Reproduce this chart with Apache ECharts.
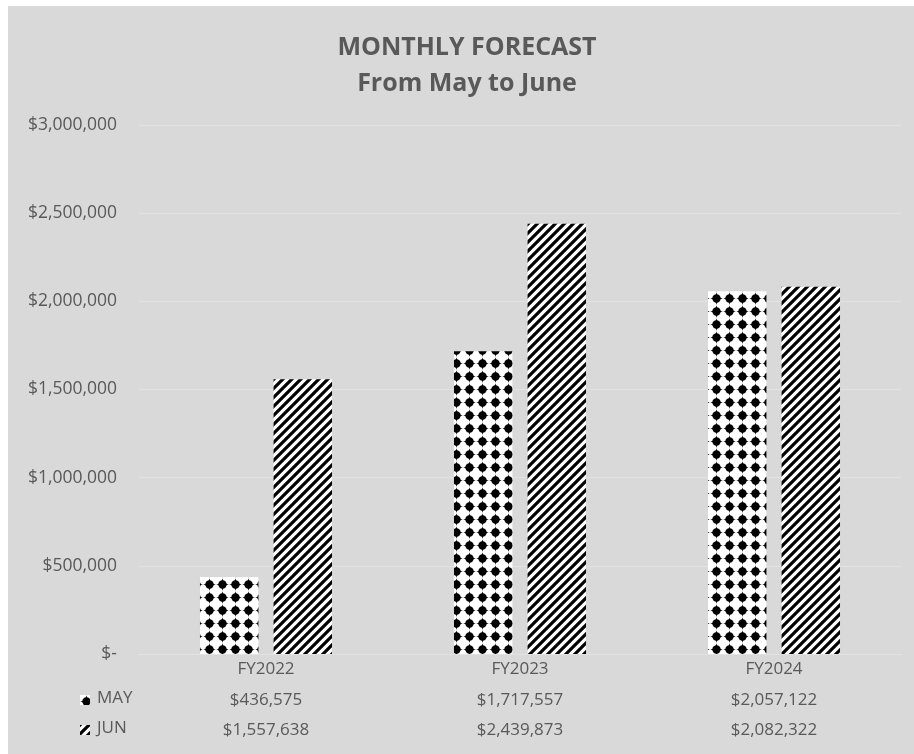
<!DOCTYPE html>
<html>
<head>
<meta charset="utf-8">
<script src="https://cdn.jsdelivr.net/npm/echarts@6/dist/echarts.min.js"></script>
<style>
html,body{margin:0;padding:0;background:#ffffff;}
#chart{position:absolute;left:8px;top:6px;width:906px;height:748px;}
</style>
</head>
<body>
<div id="chart"></div>
<script>
const categories = ['FY2022', 'FY2023', 'FY2024'];
const seriesNames = ['MAY', 'JUN'];
const mayValues = [436575, 1717557, 2057122];
const junValues = [1557638, 2439873, 2082322];
const yTicks = [0, 500000, 1000000, 1500000, 2000000, 2500000, 3000000];

function money(v) {
  if (v === 0) return '$-';
  return '$' + v.toLocaleString('en-US');
}

function dotPattern() {
  const s = 13;
  const c = document.createElement('canvas');
  c.width = s; c.height = s;
  const g = c.getContext('2d');
  g.fillStyle = '#ffffff'; g.fillRect(0, 0, s, s);
  g.fillStyle = '#000000';
  const m = s / 2;
  g.beginPath(); g.arc(m, m, 4.2, 0, Math.PI * 2); g.fill();
  g.beginPath();
  g.moveTo(m, m - 6.2); g.lineTo(m + 1.8, m); g.lineTo(m, m + 6.2); g.lineTo(m - 1.8, m); g.closePath(); g.fill();
  g.beginPath();
  g.moveTo(m - 6.2, m); g.lineTo(m, m + 1.8); g.lineTo(m + 6.2, m); g.lineTo(m, m - 1.8); g.closePath(); g.fill();
  return c;
}
function stripePattern() {
  const s = 9;
  const c = document.createElement('canvas');
  c.width = s; c.height = s;
  const g = c.getContext('2d');
  g.fillStyle = '#ffffff'; g.fillRect(0, 0, s, s);
  g.strokeStyle = '#000000'; g.lineWidth = 3.2;
  g.beginPath();
  g.moveTo(-2, s + 2); g.lineTo(s + 2, -2);
  g.moveTo(-2, 2); g.lineTo(2, -2);
  g.moveTo(s - 2, s + 2); g.lineTo(s + 2, s - 2);
  g.stroke();
  return c;
}
const dotFill = { image: dotPattern(), repeat: 'repeat' };
const stripeFill = { image: stripePattern(), repeat: 'repeat' };

const chart = echarts.init(document.getElementById('chart'));
const textColor = '#595959';
const font = '"Open Sans", "Liberation Sans", sans-serif';

chart.setOption({
  backgroundColor: '#d9d9d9',
  animation: false,
  textStyle: { fontFamily: font },
  title: {
    text: 'MONTHLY FORECAST\nFrom May to June',
    left: 454,
    top: 19,
    textAlign: 'center',
    textStyle: { fontSize: 25, fontWeight: 'bold', color: textColor, lineHeight: 36, fontFamily: font }
  },
  grid: { left: 131, right: 13, top: 119, bottom: 100 },
  xAxis: {
    type: 'category',
    data: categories,
    axisLine: { show: true, lineStyle: { color: '#e2e2e2', width: 1 } },
    axisTick: { show: false },
    axisLabel: {
      color: textColor,
      fontSize: 17,
      lineHeight: 30.5,
      margin: 0,
      formatter: function (v, i) {
        return v + '\n' + money(mayValues[i]) + '\n' + money(junValues[i]);
      }
    }
  },
  yAxis: {
    type: 'value',
    min: yTicks[0],
    max: yTicks[yTicks.length - 1],
    interval: yTicks[1] - yTicks[0],
    axisLine: { show: false },
    axisTick: { show: false },
    splitLine: { lineStyle: { color: '#e2e2e2', width: 1 } },
    axisLabel: { color: textColor, fontSize: 17.5, margin: 22, formatter: money }
  },
  series: [
    {
      name: seriesNames[0], type: 'bar', data: mayValues,
      barWidth: '23%', barGap: '26%',
      itemStyle: { color: dotFill }
    },
    {
      name: seriesNames[1], type: 'bar', data: junValues,
      barWidth: '23%',
      itemStyle: { color: stripeFill }
    }
  ],
  graphic: [
    { type: 'rect', left: 72, top: 689, shape: { width: 10, height: 10 }, style: { fill: dotFill } },
    { type: 'text', left: 89, top: 684, style: { text: seriesNames[0], fill: textColor, fontSize: 17, fontFamily: font } },
    { type: 'rect', left: 72, top: 719, shape: { width: 10, height: 10 }, style: { fill: stripeFill } },
    { type: 'text', left: 89, top: 714, style: { text: seriesNames[1], fill: textColor, fontSize: 17, fontFamily: font } }
  ]
});
</script>
</body>
</html>
